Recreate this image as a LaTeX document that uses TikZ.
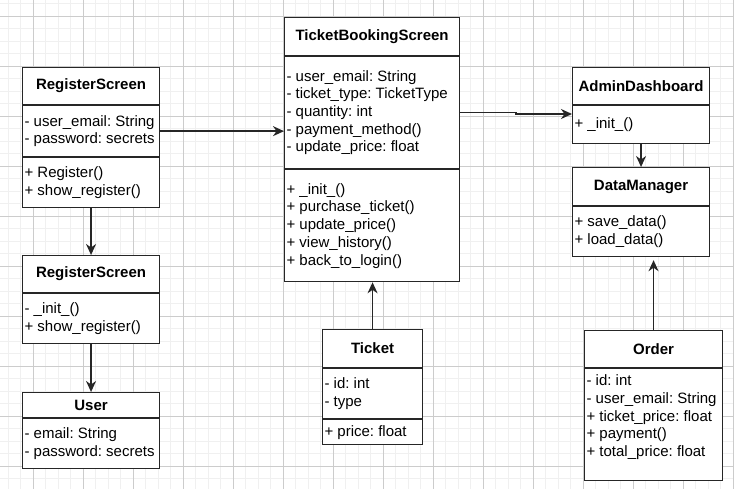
\documentclass[tikz,border=0pt]{standalone}
\usepackage{fontspec}
\setmainfont{Liberation Sans}
\usepackage{tikz}
\usetikzlibrary{arrows.meta,positioning}
\colorlet{umlline}{black!85}
\colorlet{umlgridlo}{black!6}
\colorlet{umlgridhi}{black!20}
\newcommand{\umltext}{\fontsize{15}{17.7}\selectfont\frenchspacing\hyphenpenalty=10000}
\tikzset{
  umlbox/.style={
    draw=umlline,
    fill=white,
    line width=1.1pt,
    inner xsep=2pt,
    inner ysep=0pt
  },
  umlhead/.style={umlbox,anchor=north west,font=\umltext\bfseries},
  umlpart/.style={umlbox,anchor=north,align=flush left,font=\umltext},
  umlflow/.style={-{Stealth[length=11pt,width=10pt,inset=3.5pt]},line width=1.3pt,umlline},
  umlgridminor/.style={umlgridlo,line width=0.6pt},
  umlgridmajor/.style={umlgridhi,line width=0.8pt}
}

\begin{document}
\begin{tikzpicture}[x=1pt,y=-1pt]
  \useasboundingbox (0,0) rectangle (734,489);
  \fill[white] (0,0) rectangle (734,489);
  \foreach \k in {0,...,58} \draw[umlgridminor] (8+12.5*\k,0) -- (8+12.5*\k,489);
  \foreach \k in {0,...,38} \draw[umlgridminor] (0,3.5+12.5*\k) -- (734,3.5+12.5*\k);
  \foreach \k in {0,...,14} \draw[umlgridmajor] (33+50*\k,0) -- (33+50*\k,489);
  \foreach \k in {0,...,9} \draw[umlgridmajor] (0,16+50*\k) -- (734,16+50*\k);

  \node[umlhead,minimum width=137,minimum height=37] (reg1H) at (22,67) {RegisterScreen};
  \node[umlpart,text width=133,minimum height=51] (reg1A) at (reg1H.south)
    {- user\_email: String\\- password: secrets};
  \node[umlpart,text width=133,minimum height=50] (reg1M) at (reg1A.south)
    {+ Register()\\+ show\_register()};

  \node[umlhead,minimum width=137,minimum height=37] (reg2H) at (22,255) {RegisterScreen};
  \node[umlpart,text width=133,minimum height=50] (reg2B) at (reg2H.south)
    {- \_init\_()\\+ show\_register()};

  \node[umlhead,minimum width=137,minimum height=25] (userH) at (22,392) {User};
  \node[umlpart,text width=133,minimum height=50] (userB) at (userH.south)
    {- email: String\\- password: secrets};

  \node[umlhead,minimum width=175,minimum height=38] (tbsH) at (284,17) {TicketBookingScreen};
  \node[umlpart,text width=171,minimum height=112] (tbsA) at (tbsH.south)
    {- user\_email: String\\- ticket\_type: TicketType\\- quantity: int\\- payment\_method()\\- update\_price: float};
  \node[umlpart,text width=171,minimum height=112] (tbsM) at (tbsA.south)
    {+ \_init\_()\\+ purchase\_ticket()\\+ update\_price()\\+ view\_history()\\+ back\_to\_login()};

  \node[umlhead,minimum width=100,minimum height=38] (ticketH) at (322,329) {Ticket};
  \node[umlpart,text width=96,minimum height=50] (ticketA) at (ticketH.south)
    {- id: int\\- type};
  \node[umlpart,text width=96,minimum height=25] (ticketM) at (ticketA.south)
    {+ price: float};

  \node[umlhead,minimum width=137,minimum height=37] (adminH) at (572,67) {AdminDashboard};
  \node[umlpart,text width=133,minimum height=38] (adminB) at (adminH.south)
    {+ \_init\_()};

  \node[umlhead,minimum width=137,minimum height=38] (dataH) at (572,167) {DataManager};
  \node[umlpart,text width=133,minimum height=50] (dataB) at (dataH.south)
    {+ save\_data()\\+ load\_data()};

  \node[umlhead,minimum width=138,minimum height=37] (orderH) at (584,330) {Order};
  \node[umlpart,text width=134,minimum height=112] (orderB) at (orderH.south)
    {- id: int\\- user\_email: String\\+ ticket\_price: float\\+ payment()\\+ total\_price: float\\\mbox{}};

  \draw[umlflow] (reg1M.south) -- (reg2H.north);
  \draw[umlflow] (reg2B.south) -- (userH.north);
  \draw[umlflow] (reg1A.east) -- (reg1A.east -| tbsA.west);
  \draw[umlflow] (tbsA.east) -- ++(56,0) |- (adminB.west |- 0,114);
  \draw[umlflow] (adminB.south) -- (dataH.north);
  \draw[umlflow] (ticketH.north) -- (ticketH.north |- tbsM.south);
  \draw[umlflow,shorten >=3pt] (orderH.north) -- (orderH.north |- dataB.south);
\end{tikzpicture}
\end{document}
